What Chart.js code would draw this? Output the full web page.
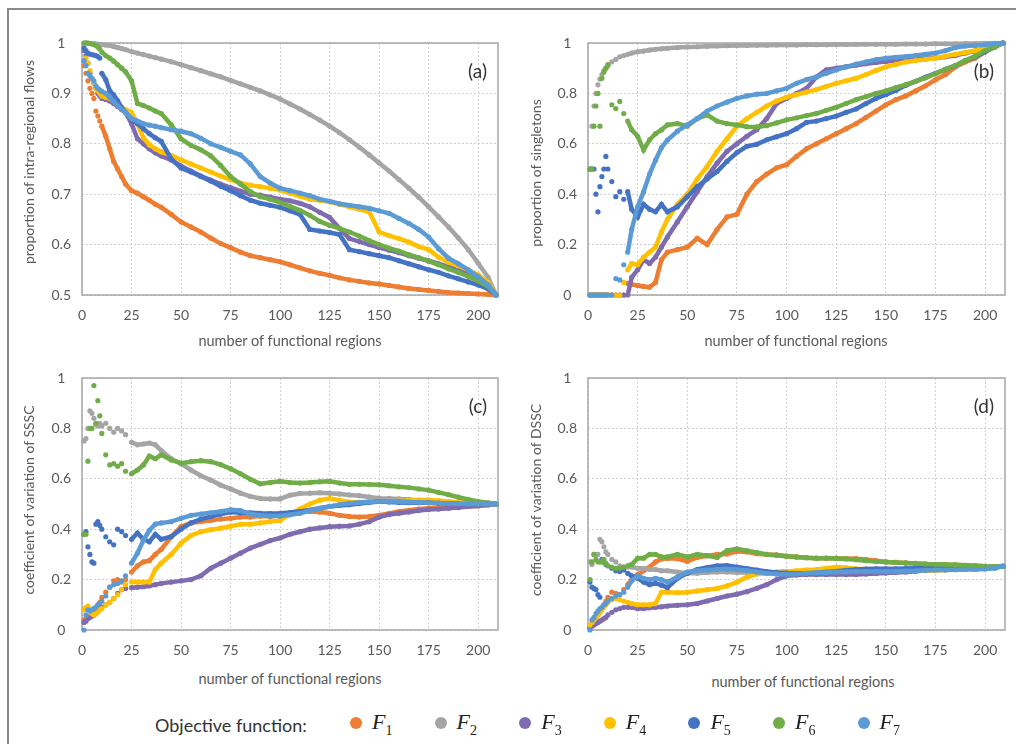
<!DOCTYPE html>
<html>
<head>
<meta charset="utf-8">
<script src="https://cdn.jsdelivr.net/npm/chart.js@4.4.1/dist/chart.umd.min.js"></script>
<style>
  body { margin: 0; background: #fff; font-family: Lato, "Open Sans", sans-serif; }
  #page { position: relative; width: 1016px; height: 744px; overflow: hidden; background: #fff; }
  .frame { position: absolute; left: 7px; top: 8px; width: 1100px; height: 800px; border: 2px solid #8a8a8a; }
  canvas { position: absolute; }
  .ytitle { position: absolute; transform: translate(-50%, -50%) rotate(-90deg); white-space: nowrap; font-size: 14px; color: #595959; }
  .xtitle { position: absolute; transform: translate(-50%, -50%); white-space: nowrap; font-size: 14.5px; color: #595959; }
  .lgtitle { position: absolute; left: 155px; top: 725px; transform: translateY(-50%); font-size: 18px; color: #333; white-space: nowrap; }
  .lgdot { position: absolute; width: 12px; height: 12px; border-radius: 50%; top: 717px; }
  .lgname { position: absolute; top: 724px; transform: translateY(-50%); font-family: "Liberation Serif", "DejaVu Serif", serif; font-style: italic; font-size: 22px; color: #222; white-space: nowrap; }
  .lgname sub { font-style: normal; font-size: 14px; }
</style>
</head>
<body>
<div id="page">
  <div class="frame"></div>
  <canvas id="chartA" width="510" height="330" style="left:0;top:0"></canvas>
  <canvas id="chartB" width="506" height="330" style="left:510px;top:0"></canvas>
  <canvas id="chartC" width="510" height="330" style="left:0;top:335px"></canvas>
  <canvas id="chartD" width="506" height="330" style="left:510px;top:335px"></canvas>

  <div class="ytitle" style="left:28px;top:162px">proportion of intra-regional flows</div>
  <div class="ytitle" style="left:535px;top:173px">proportion of singletons</div>
  <div class="ytitle" style="left:28px;top:500px">coefficient of variation of SSSC</div>
  <div class="ytitle" style="left:535px;top:500px">coefficient of variation of DSSC</div>
  <div class="xtitle" style="left:290px;top:340px">number of functional regions</div>
  <div class="xtitle" style="left:796px;top:340px">number of functional regions</div>
  <div class="xtitle" style="left:290px;top:678px">number of functional regions</div>
  <div class="xtitle" style="left:803px;top:681px">number of functional regions</div>

  <div class="lgtitle">Objective function:</div>
  <div id="legend"></div>
</div>

<script>
  // number of functional regions (x values shared by every series)
  const regions = [1, 2, 3, 4, 5, 6, 7, 8, 9, 10,
    12, 14, 16, 18, 20,
    22, 25, 28, 31, 34, 37, 40,
    45, 50, 55, 60, 65, 70, 75, 80, 85, 90, 95,
    100, 105, 110, 115, 120, 125, 130, 135, 140, 145, 150,
    155, 160, 165, 170, 175, 180, 185, 190, 195, 200, 205,
    209];

  const seriesNames = ['1', '2', '3', '4', '5', '6', '7'];
  const seriesColors = ['#ED7D31', '#A5A5A5', '#7F6BB0', '#FFC000', '#4472C4', '#70AD47', '#5B9BD5'];

  // ---- (a) proportion of intra-regional flows ----
  const flowsF1 = [0.955, 0.94, 0.925, 0.91, 0.9, 0.89, 0.865, 0.855, 0.845, 0.835,
    0.815, 0.79, 0.765, 0.75, 0.735,
    0.72, 0.707, 0.702, 0.695, 0.688, 0.68, 0.674,
    0.66, 0.645, 0.635, 0.625, 0.613, 0.602, 0.594, 0.585, 0.578, 0.574, 0.57,
    0.566, 0.56, 0.554, 0.548, 0.543, 0.539, 0.534, 0.53, 0.527, 0.524, 0.522,
    0.519, 0.516, 0.513, 0.511, 0.509, 0.507, 0.505, 0.504, 0.503, 0.502, 0.501,
    0.5];
  const flowsF2 = [1, 1, 1, 0.999, 0.999, 0.999, 0.998, 0.998, 0.997, 0.997,
    0.996, 0.995, 0.993, 0.991, 0.989,
    0.987, 0.983, 0.98, 0.977, 0.974, 0.971, 0.968,
    0.963, 0.957, 0.951, 0.945, 0.939, 0.933, 0.926, 0.919, 0.912, 0.905, 0.897,
    0.889, 0.879, 0.869, 0.858, 0.847, 0.835, 0.822, 0.808, 0.793, 0.778, 0.762,
    0.746, 0.729, 0.712, 0.694, 0.675, 0.655, 0.635, 0.613, 0.59, 0.563, 0.535,
    0.5];
  const flowsF3 = [0.985, 0.975, 0.96, 0.94, 0.93, 0.92, 0.91, 0.9, 0.895, 0.89,
    0.888, 0.885, 0.88, 0.874, 0.868,
    0.862, 0.84, 0.81, 0.8, 0.79, 0.782, 0.776,
    0.768, 0.756, 0.746, 0.736, 0.728, 0.72, 0.713, 0.706, 0.7, 0.698, 0.694,
    0.69, 0.687, 0.682, 0.675, 0.664, 0.654, 0.632, 0.612, 0.606, 0.6, 0.594,
    0.589, 0.584, 0.578, 0.573, 0.568, 0.562, 0.556, 0.549, 0.542, 0.535, 0.522,
    0.5];
  const flowsF4 = [0.99, 0.97, 0.96, 0.945, 0.93, 0.92, 0.91, 0.905, 0.9, 0.895,
    0.892, 0.89, 0.885, 0.878, 0.872,
    0.868, 0.862, 0.84, 0.812, 0.798, 0.79, 0.784,
    0.777, 0.768, 0.76, 0.752, 0.744, 0.736, 0.729, 0.722, 0.718, 0.715, 0.712,
    0.708, 0.702, 0.696, 0.69, 0.688, 0.685, 0.68, 0.675, 0.67, 0.665, 0.625,
    0.618, 0.612, 0.605, 0.596, 0.59, 0.575, 0.565, 0.558, 0.55, 0.54, 0.525,
    0.5];
  const flowsF5 = [0.99, 0.985, 0.98, 0.978, 0.977, 0.976, 0.975, 0.973, 0.97, 0.94,
    0.927, 0.905, 0.897, 0.885, 0.872,
    0.862, 0.848, 0.84, 0.83, 0.82, 0.812, 0.805,
    0.77, 0.752, 0.744, 0.735, 0.726, 0.716, 0.707, 0.697, 0.688, 0.682, 0.678,
    0.674, 0.667, 0.66, 0.63, 0.627, 0.624, 0.62, 0.59, 0.586, 0.582, 0.578,
    0.574, 0.568, 0.562, 0.556, 0.55, 0.545, 0.538, 0.532, 0.526, 0.52, 0.512,
    0.5];
  const flowsF6 = [1, 1, 1, 0.999, 0.998, 0.997, 0.995, 0.992, 0.988, 0.982,
    0.975, 0.97, 0.964, 0.957, 0.95,
    0.943, 0.925, 0.88, 0.876, 0.871, 0.865, 0.86,
    0.838, 0.81, 0.797, 0.788, 0.776, 0.757, 0.735, 0.72, 0.705, 0.695, 0.69,
    0.684, 0.676, 0.668, 0.658, 0.646, 0.638, 0.632, 0.625, 0.617, 0.608, 0.6,
    0.593, 0.587, 0.58, 0.574, 0.567, 0.56, 0.552, 0.545, 0.537, 0.528, 0.517,
    0.5];
  const flowsF7 = [0.965, 0.955, 0.94, 0.935, 0.93, 0.925, 0.915, 0.91, 0.907, 0.904,
    0.9, 0.892, 0.884, 0.876, 0.868,
    0.862, 0.85, 0.845, 0.84, 0.837, 0.835, 0.832,
    0.828, 0.825, 0.82, 0.811, 0.8, 0.793, 0.785, 0.778, 0.76, 0.735, 0.722,
    0.712, 0.707, 0.702, 0.697, 0.69, 0.686, 0.681, 0.678, 0.675, 0.672, 0.667,
    0.662, 0.652, 0.642, 0.63, 0.615, 0.592, 0.573, 0.562, 0.55, 0.536, 0.52,
    0.5];

  // ---- (b) proportion of singletons ----
  const singletonsF1 = [0, 0, 0, 0, 0, 0, 0, 0, 0, 0,
    0, 0, 0, 0, 0.046,
    0.042, 0.038, 0.034, 0.031, 0.05, 0.14, 0.17,
    0.18, 0.19, 0.225, 0.2, 0.26, 0.31, 0.32, 0.4, 0.45, 0.48, 0.505,
    0.517, 0.55, 0.58, 0.6, 0.62, 0.64, 0.66, 0.68, 0.705, 0.73, 0.755,
    0.775, 0.79, 0.81, 0.83, 0.854, 0.875, 0.905, 0.925, 0.94, 0.965, 0.985,
    1];
  const singletonsF2 = [0.5, 0.67, 0.75, 0.8, 0.834, 0.857, 0.875, 0.89, 0.9, 0.91,
    0.925, 0.935, 0.945, 0.95, 0.955,
    0.96, 0.965, 0.968, 0.972, 0.975, 0.977, 0.979,
    0.982, 0.984, 0.985, 0.987, 0.988, 0.989, 0.99, 0.99, 0.991, 0.991, 0.992,
    0.992, 0.992, 0.993, 0.993, 0.993, 0.994, 0.994, 0.994, 0.995, 0.995, 0.995,
    0.995, 0.996, 0.996, 0.996, 0.997, 0.997, 0.997, 0.998, 0.998, 0.999, 0.999,
    1];
  const singletonsF3 = [0, 0, 0, 0, 0, 0, 0, 0, 0, 0,
    0, 0, 0, 0, 0,
    0.07, 0.1, 0.14, 0.125, 0.15, 0.19, 0.23,
    0.29, 0.35, 0.41, 0.47, 0.523, 0.57, 0.6, 0.63, 0.656, 0.7, 0.76,
    0.78, 0.8, 0.82, 0.865, 0.893, 0.9, 0.906, 0.912, 0.918, 0.923, 0.927,
    0.93, 0.933, 0.936, 0.938, 0.94, 0.945, 0.95, 0.96, 0.968, 0.978, 0.99,
    1];
  const singletonsF4 = [0, 0, 0, 0, 0, 0, 0, 0, 0, 0,
    0, 0, 0, 0.05, 0.1,
    0.125, 0.12, 0.15, 0.17, 0.19, 0.25, 0.3,
    0.36, 0.4, 0.46, 0.51, 0.57, 0.62, 0.67, 0.7, 0.725, 0.75, 0.77,
    0.785, 0.795, 0.805, 0.815, 0.828, 0.84, 0.85, 0.86, 0.875, 0.89, 0.905,
    0.915, 0.925, 0.93, 0.935, 0.94, 0.948, 0.955, 0.962, 0.97, 0.98, 0.99,
    1];
  const singletonsF5 = [0.5, 0.5, 0.5, 0.4, 0.33, 0.43, 0.47, 0.5, 0.55, 0.5,
    0.45, 0.39, 0.41, 0.38, 0.41,
    0.34, 0.31, 0.36, 0.34, 0.33, 0.36, 0.33,
    0.35, 0.39, 0.43, 0.46, 0.49, 0.53, 0.565, 0.59, 0.598, 0.616, 0.628,
    0.64, 0.66, 0.685, 0.69, 0.7, 0.71, 0.725, 0.738, 0.76, 0.78, 0.795,
    0.812, 0.832, 0.848, 0.865, 0.88, 0.895, 0.91, 0.93, 0.945, 0.965, 0.985,
    1];
  const singletonsF6 = [0.5, 0.5, 0.67, 0.75, 0.8, 0.67, 0.86, 0.885, 0.9, 0.914,
    0.755, 0.74, 0.768, 0.72, 0.69,
    0.656, 0.63, 0.576, 0.616, 0.64, 0.655, 0.675,
    0.68, 0.67, 0.7, 0.715, 0.69, 0.68, 0.675, 0.668, 0.667, 0.672, 0.683,
    0.695, 0.703, 0.712, 0.72, 0.733, 0.745, 0.76, 0.775, 0.787, 0.8, 0.81,
    0.823, 0.835, 0.848, 0.862, 0.878, 0.895, 0.91, 0.93, 0.948, 0.97, 0.985,
    1];
  const singletonsF7 = [0, 0, 0, 0, 0, 0, 0, 0, 0, 0,
    0, 0.065, 0.06, 0.12, 0.17,
    0.26, 0.35, 0.41, 0.48, 0.535, 0.585, 0.615,
    0.65, 0.675, 0.7, 0.73, 0.75, 0.765, 0.78, 0.79, 0.797, 0.8, 0.81,
    0.82, 0.84, 0.855, 0.865, 0.88, 0.893, 0.905, 0.916, 0.925, 0.934, 0.94,
    0.943, 0.946, 0.95, 0.955, 0.96, 0.97, 0.982, 0.988, 0.99, 0.993, 0.997,
    1];

  // ---- (c) coefficient of variation of SSSC ----
  const ssscF1 = [0.04, 0.045, 0.05, 0.055, 0.06, 0.07, 0.085, 0.1, 0.11, 0.13,
    0.15, 0.17, 0.195, 0.2, 0.19,
    0.2, 0.23, 0.255, 0.27, 0.275, 0.3, 0.32,
    0.37, 0.41, 0.425, 0.43, 0.435, 0.44, 0.443, 0.448, 0.448, 0.452, 0.45,
    0.455, 0.465, 0.47, 0.47, 0.468, 0.463, 0.455, 0.45, 0.448, 0.45, 0.455,
    0.462, 0.47, 0.475, 0.48, 0.483, 0.485, 0.487, 0.488, 0.49, 0.492, 0.496,
    0.5];
  const ssscF2 = [0.75, 0.76, 0.8, 0.87, 0.86, 0.84, 0.815, 0.81, 0.82, 0.81,
    0.82, 0.8, 0.785, 0.8, 0.79,
    0.775, 0.745, 0.735, 0.738, 0.742, 0.735, 0.712,
    0.68, 0.66, 0.635, 0.612, 0.595, 0.575, 0.56, 0.543, 0.53, 0.522, 0.52,
    0.52, 0.535, 0.542, 0.543, 0.545, 0.543, 0.54, 0.536, 0.533, 0.528, 0.523,
    0.522, 0.52, 0.518, 0.514, 0.51, 0.508, 0.505, 0.503, 0.501, 0.5, 0.5,
    0.5];
  const ssscF3 = [0.03, 0.035, 0.045, 0.05, 0.055, 0.06, 0.07, 0.08, 0.086, 0.09,
    0.1, 0.11, 0.125, 0.145, 0.16,
    0.165, 0.168, 0.17, 0.172, 0.175, 0.18, 0.185,
    0.19, 0.195, 0.2, 0.215, 0.245, 0.265, 0.285, 0.305, 0.325, 0.34, 0.355,
    0.365, 0.38, 0.39, 0.4, 0.405, 0.41, 0.412, 0.413, 0.42, 0.43, 0.448,
    0.458, 0.463, 0.468, 0.474, 0.478, 0.48, 0.483, 0.486, 0.49, 0.493, 0.497,
    0.5];
  const ssscF4 = [0.08, 0.09, 0.095, 0.08, 0.065, 0.06, 0.065, 0.07, 0.08, 0.085,
    0.1, 0.11, 0.125, 0.14, 0.16,
    0.18, 0.19, 0.19, 0.19, 0.19, 0.24, 0.265,
    0.3, 0.345, 0.375, 0.39, 0.398, 0.404, 0.412, 0.42, 0.42, 0.425, 0.43,
    0.435, 0.46, 0.48, 0.5, 0.515, 0.522, 0.515, 0.508, 0.507, 0.51, 0.51,
    0.51, 0.512, 0.514, 0.516, 0.516, 0.513, 0.51, 0.507, 0.505, 0.502, 0.5,
    0.5];
  const ssscF5 = [0.38, 0.39, 0.33, 0.3, 0.27, 0.265, 0.42, 0.43, 0.415, 0.4,
    0.37, 0.35, 0.338, 0.4, 0.39,
    0.375, 0.36, 0.385, 0.36, 0.35, 0.38, 0.36,
    0.37, 0.4, 0.425, 0.44, 0.45, 0.46, 0.468, 0.465, 0.465, 0.463, 0.462,
    0.463, 0.466, 0.47, 0.476, 0.483, 0.49, 0.494, 0.497, 0.502, 0.506, 0.51,
    0.508, 0.506, 0.505, 0.505, 0.505, 0.503, 0.502, 0.501, 0.5, 0.5, 0.5,
    0.5];
  const ssscF6 = [0.38, 0.38, 0.67, 0.8, 0.8, 0.97, 0.82, 0.91, 0.85, 0.78,
    0.695, 0.655, 0.66, 0.65, 0.66,
    0.63, 0.62, 0.635, 0.655, 0.69, 0.68, 0.695,
    0.675, 0.662, 0.668, 0.672, 0.668, 0.656, 0.64, 0.62, 0.598, 0.58, 0.585,
    0.59, 0.585, 0.583, 0.585, 0.588, 0.59, 0.583, 0.578, 0.578, 0.577, 0.576,
    0.572, 0.568, 0.565, 0.56, 0.555, 0.546, 0.537, 0.527, 0.518, 0.51, 0.505,
    0.5];
  const ssscF7 = [0, 0.06, 0.08, 0.075, 0.08, 0.086, 0.09, 0.1, 0.106, 0.115,
    0.135, 0.17, 0.18, 0.185, 0.195,
    0.215, 0.265, 0.305, 0.357, 0.395, 0.42, 0.425,
    0.43, 0.443, 0.455, 0.46, 0.465, 0.47, 0.477, 0.474, 0.46, 0.455, 0.452,
    0.452, 0.457, 0.463, 0.473, 0.483, 0.49, 0.497, 0.503, 0.506, 0.508, 0.51,
    0.51, 0.51, 0.508, 0.507, 0.505, 0.504, 0.502, 0.501, 0.5, 0.5, 0.5,
    0.5];

  // ---- (d) coefficient of variation of DSSC ----
  const dsscF1 = [0.01, 0.02, 0.04, 0.05, 0.06, 0.075, 0.085, 0.1, 0.115, 0.13,
    0.15, 0.145, 0.14, 0.16, 0.18,
    0.2, 0.22, 0.235, 0.25, 0.27, 0.282, 0.285,
    0.283, 0.272, 0.288, 0.295, 0.3, 0.302, 0.312, 0.31, 0.303, 0.3, 0.298,
    0.293, 0.29, 0.287, 0.285, 0.285, 0.285, 0.284, 0.283, 0.28, 0.275, 0.27,
    0.268, 0.266, 0.264, 0.262, 0.26, 0.259, 0.258, 0.257, 0.255, 0.253, 0.252,
    0.252];
  const dsscF2 = [0.27, 0.26, 0.3, 0.3, 0.3, 0.36, 0.35, 0.33, 0.31, 0.3,
    0.28, 0.27, 0.255, 0.25, 0.25,
    0.25, 0.245, 0.245, 0.24, 0.24, 0.235, 0.235,
    0.23, 0.225, 0.225, 0.228, 0.23, 0.23, 0.228, 0.228, 0.225, 0.225, 0.23,
    0.232, 0.23, 0.228, 0.228, 0.23, 0.23, 0.232, 0.235, 0.233, 0.232, 0.233,
    0.235, 0.237, 0.24, 0.24, 0.242, 0.243, 0.245, 0.246, 0.248, 0.25, 0.25,
    0.252];
  const dsscF3 = [0.01, 0.015, 0.02, 0.025, 0.03, 0.035, 0.04, 0.045, 0.05, 0.06,
    0.07, 0.08, 0.085, 0.09, 0.09,
    0.09, 0.085, 0.085, 0.088, 0.09, 0.092, 0.095,
    0.098, 0.1, 0.105, 0.115, 0.125, 0.135, 0.142, 0.152, 0.165, 0.18, 0.2,
    0.215, 0.218, 0.22, 0.22, 0.22, 0.22, 0.22, 0.22, 0.222, 0.224, 0.226,
    0.228, 0.23, 0.233, 0.236, 0.238, 0.24, 0.242, 0.244, 0.246, 0.248, 0.25,
    0.252];
  const dsscF4 = [0.02, 0.03, 0.04, 0.05, 0.06, 0.07, 0.08, 0.09, 0.1, 0.11,
    0.12, 0.125, 0.12, 0.115, 0.11,
    0.105, 0.1, 0.1, 0.1, 0.105, 0.15, 0.15,
    0.148, 0.15, 0.155, 0.16, 0.165, 0.175, 0.19, 0.21, 0.222, 0.225, 0.228,
    0.232, 0.235, 0.238, 0.24, 0.245, 0.25, 0.247, 0.243, 0.242, 0.24, 0.238,
    0.237, 0.237, 0.236, 0.236, 0.236, 0.238, 0.24, 0.242, 0.245, 0.247, 0.25,
    0.252];
  const dsscF5 = [0.19, 0.17, 0.165, 0.16, 0.14, 0.13, 0.28, 0.27, 0.26, 0.255,
    0.245, 0.235, 0.232, 0.238, 0.225,
    0.215, 0.205, 0.19, 0.18, 0.185, 0.178, 0.168,
    0.205, 0.225, 0.24, 0.248, 0.255, 0.256, 0.25, 0.244, 0.238, 0.232, 0.228,
    0.226, 0.225, 0.225, 0.227, 0.23, 0.233, 0.237, 0.24, 0.242, 0.243, 0.243,
    0.243, 0.244, 0.245, 0.245, 0.246, 0.246, 0.247, 0.248, 0.248, 0.249, 0.25,
    0.252];
  const dsscF6 = [0.2, 0.27, 0.3, 0.28, 0.27, 0.27, 0.27, 0.28, 0.265, 0.255,
    0.25, 0.245, 0.245, 0.25, 0.255,
    0.26, 0.285, 0.285, 0.3, 0.3, 0.29, 0.29,
    0.3, 0.29, 0.3, 0.295, 0.288, 0.315, 0.322, 0.315, 0.308, 0.3, 0.297,
    0.293, 0.29, 0.287, 0.285, 0.285, 0.284, 0.282, 0.279, 0.275, 0.272, 0.27,
    0.268, 0.266, 0.264, 0.262, 0.261, 0.26, 0.259, 0.257, 0.255, 0.253, 0.252,
    0.252];
  const dsscF7 = [0, 0.04, 0.05, 0.065, 0.075, 0.085, 0.09, 0.1, 0.105, 0.115,
    0.125, 0.135, 0.14, 0.15, 0.17,
    0.195, 0.215, 0.205, 0.2, 0.205, 0.2, 0.19,
    0.21, 0.23, 0.235, 0.238, 0.24, 0.242, 0.24, 0.236, 0.23, 0.225, 0.222,
    0.22, 0.222, 0.225, 0.227, 0.228, 0.23, 0.231, 0.232, 0.232, 0.232, 0.232,
    0.233, 0.234, 0.235, 0.237, 0.238, 0.238, 0.239, 0.24, 0.24, 0.242, 0.245,
    0.255];

  const xTicks = [0, 25, 50, 75, 100, 125, 150, 175, 200];

  // frame round the plot area + panel letter
  const framePlugin = {
    id: 'frame',
    beforeDatasetsDraw(chart) {
      const { ctx, chartArea: a } = chart;
      ctx.save();
      ctx.strokeStyle = '#a6a6a6';
      ctx.lineWidth = 1.5;
      ctx.strokeRect(a.left, a.top, a.right - a.left, a.bottom - a.top);
      ctx.restore();
    },
    afterDraw(chart, args, opts) {
      const { ctx, chartArea: a } = chart;
      ctx.save();
      ctx.font = '19px Lato, sans-serif';
      ctx.fillStyle = '#333';
      ctx.textAlign = 'right';
      ctx.textBaseline = 'middle';
      ctx.fillText(opts.tag, a.right - 11, a.top + 29);
      ctx.restore();
    }
  };

  function makePanel(id, series, yMin, yStep, yWidth, rightPad, lineFrom, tag) {
    const datasets = series.map((ys, i) => {
      const color = seriesColors[i];
      return {
        label: 'F' + seriesNames[i],
        data: regions.map((x, k) => ({ x: x, y: ys[k] })),
        showLine: true,
        borderColor: color,
        borderWidth: 4.5,
        backgroundColor: color,
        pointRadius: 2.6,
        pointBorderWidth: 0,
        pointBackgroundColor: color,
        clip: 6,
        // scattered single dots for the first regions, a dense band afterwards
        segment: { borderColor: ctx => ctx.p0.parsed.x >= lineFrom ? color : 'rgba(0,0,0,0)' }
      };
    }).reverse();   // F7 drawn on top

    new Chart(document.getElementById(id), {
      type: 'scatter',
      data: { datasets: datasets },
      options: {
        responsive: false,
        animation: false,
        layout: { padding: { top: 43, right: rightPad, left: 0, bottom: 0 } },
        plugins: { legend: { display: false }, tooltip: { enabled: false }, frame: { tag: tag } },
        scales: {
          x: {
            type: 'linear', min: 0, max: 210,
            afterFit: s => { s.height = 35; },
            afterBuildTicks: s => { s.ticks = xTicks.map(v => ({ value: v })); },
            ticks: { padding: 12, color: '#595959', font: { family: 'Lato', size: 14 } },
            grid: { color: '#d0d0d0', drawTicks: false },
            border: { display: false, dash: [2, 2] }
          },
          y: {
            min: yMin, max: 1,
            afterFit: s => { s.width = yWidth; },
            ticks: {
              stepSize: yStep, padding: 11, crossAlign: 'center', color: '#595959',
              font: { family: 'Lato', size: 14 },
              callback: v => String(Number(v.toFixed(2)))
            },
            grid: { color: '#d0d0d0', drawTicks: false },
            border: { display: false, dash: [2, 2] }
          }
        }
      },
      plugins: [framePlugin]
    });
  }

  makePanel('chartA', [flowsF1, flowsF2, flowsF3, flowsF4, flowsF5, flowsF6, flowsF7], 0.5, 0.1, 82, 12, 10, '(a)');
  makePanel('chartB', [singletonsF1, singletonsF2, singletonsF3, singletonsF4, singletonsF5, singletonsF6, singletonsF7], 0, 0.2, 78, 11, 20, '(b)');
  makePanel('chartC', [ssscF1, ssscF2, ssscF3, ssscF4, ssscF5, ssscF6, ssscF7], 0, 0.2, 82, 12, 25, '(c)');
  makePanel('chartD', [dsscF1, dsscF2, dsscF3, dsscF4, dsscF5, dsscF6, dsscF7], 0, 0.2, 78, 11, 20, '(d)');

  // legend
  const legend = document.getElementById('legend');
  seriesNames.forEach((n, i) => {
    const cx = 356 + i * 84.6;
    const dot = document.createElement('div');
    dot.className = 'lgdot';
    dot.style.left = (cx - 6) + 'px';
    dot.style.background = seriesColors[i];
    legend.appendChild(dot);
    const lab = document.createElement('div');
    lab.className = 'lgname';
    lab.style.left = (cx + 16) + 'px';
    lab.innerHTML = 'F<sub>' + n + '</sub>';
    legend.appendChild(lab);
  });
</script>
</body>
</html>
